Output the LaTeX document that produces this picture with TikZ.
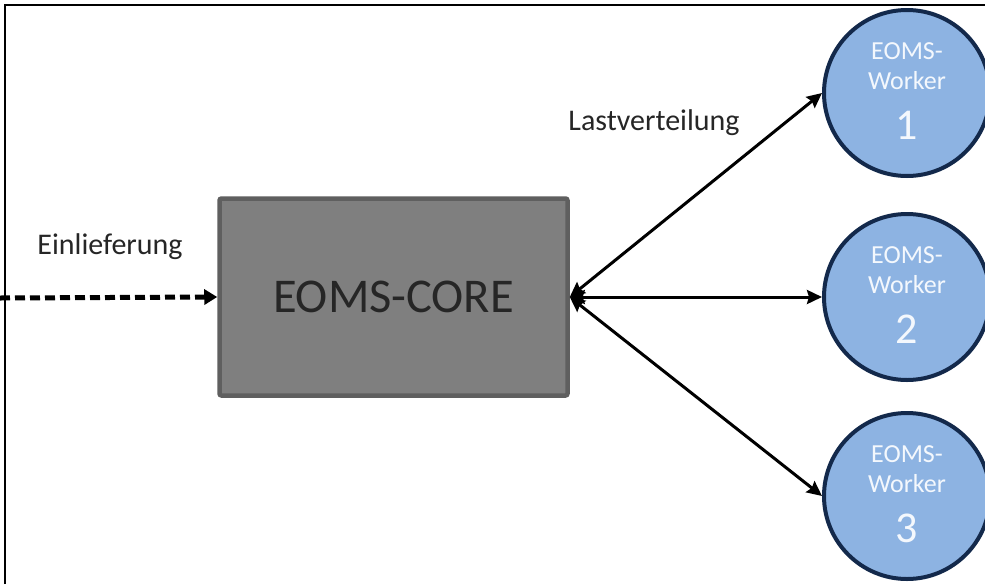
\documentclass[tikz,border=0pt]{standalone}
\usepackage{fontspec}
\setmainfont{Carlito}
\usetikzlibrary{arrows.meta,calc}
\definecolor{wfill}{HTML}{8DB3E2}
\definecolor{wdraw}{HTML}{13294B}
\definecolor{cfill}{HTML}{7F7F7F}
\definecolor{cdraw}{HTML}{5F5F5F}
\definecolor{txt}{HTML}{262626}
\definecolor{wtxt}{HTML}{F4F8FD}
\begin{document}
\begin{tikzpicture}[x=1pt,y=-1pt,
  worker/.style={circle, draw=wdraw, line width=4pt, fill=wfill, minimum size=166pt, inner sep=0pt},
  wsmall/.style={anchor=base, inner sep=0pt, text=wtxt, font=\fontsize{26}{30}\selectfont},
  wbig/.style={anchor=base, inner sep=0pt, text=wtxt, font=\fontsize{44}{50}\selectfont},
  core/.style={rectangle, rounded corners=2pt, draw=cdraw, line width=4.5pt, fill=cfill,
    minimum width=348pt, minimum height=197pt, text=txt, font=\fontsize{48.5}{58}\selectfont},
  lbl/.style={text=txt, inner sep=0pt, font=\fontsize{30}{36}\selectfont},
  link/.style={line width=3pt, {Stealth[length=15pt,width=14pt,inset=2pt]}-{Stealth[length=15pt,width=14pt,inset=2pt]}},
  feed/.style={line width=5pt, dash pattern=on 10pt off 5pt, -{Triangle[length=13pt,width=15pt]}},
]
\useasboundingbox (0,0) rectangle (985,584);
\fill[white] (0,0) rectangle (985,584);
\draw[line width=2pt] (5,584) -- (5,5) -- (985,5);

\node[core] (core) at (393.5,297) {EOMS-CORE};

\foreach \i/\y in {1/93,2/297,3/496}{
  \node[worker] (w\i) at (907,\y) {};
  \node[wsmall] (w\i a) at ($(w\i)+(0,-34)$) {EOMS-};
  \node[wsmall] (w\i b) at ($(w\i)+(0,-4)$) {Worker};
  \node[wbig] (w\i c) at ($(w\i)+(0,46)$) {\i};
}

\node[lbl] (ein) at (110,247) {Einlieferung};
\node[lbl] (last) at (654,123) {Lastverteilung};

\coordinate (src) at (0,298);
\draw[feed] (src) -- (core.west);
\draw[link] (core.east) -- (w1.west);
\draw[link] (core.east) -- (w2.west);
\draw[link] (core.east) -- (w3.west);
\end{tikzpicture}
\end{document}
